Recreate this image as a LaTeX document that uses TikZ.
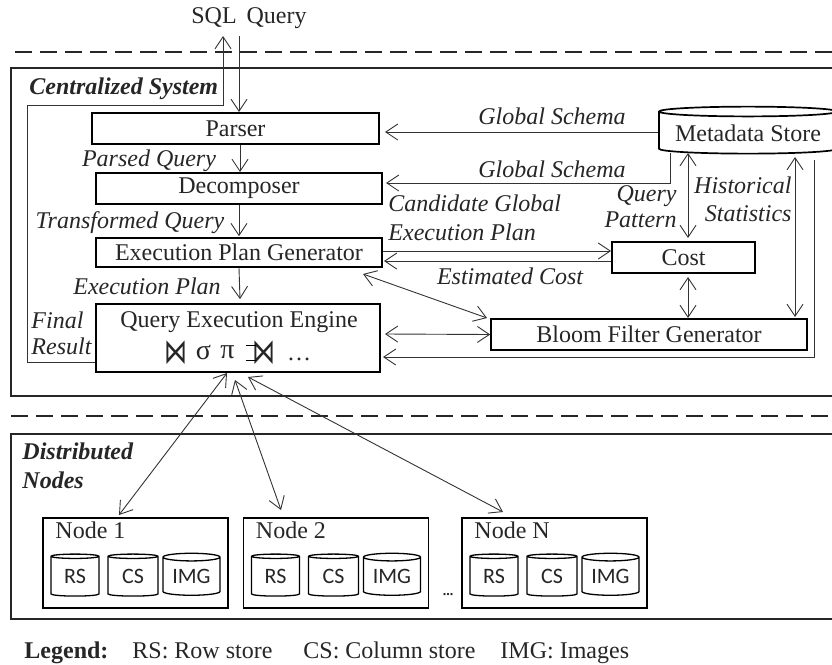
\documentclass[tikz,border=0pt]{standalone}
\usepackage{fontspec}
\setmainfont{Liberation Serif}
\newfontfamily\storefont{Carlito}
\newfontfamily\opfont{DejaVu Sans}
\usetikzlibrary{shapes.geometric,arrows.meta}

\begin{document}
\begin{tikzpicture}[x=1pt,y=-1pt,>={Straight Barb[length=12pt,width=16pt]},
  line width=0.9pt,color=black!80,
  every node/.style={font=\fontsize{24}{28}\selectfont,text=black!85},
  main node/.style={draw=black,line width=1.7pt,inner sep=0pt},
  frame node/.style={draw=black!85,line width=1.5pt,inner sep=0pt,minimum width=823pt},
  flow label/.style={font=\fontsize{24}{28}\selectfont\itshape,inner sep=0pt},
  part label/.style={font=\fontsize{24}{28}\selectfont\bfseries\itshape,inner sep=0pt,anchor=west},
  store node/.style={draw=black,line width=1.3pt,cylinder,shape border rotate=90,inner sep=0pt,
    aspect=0.2,minimum height=42pt,font=\fontsize{22}{26}\selectfont\storefont},
  op node/.style={inner sep=0pt,font=\fontsize{28}{32}\selectfont},
  join node/.style={inner sep=0pt,font=\fontsize{23}{26}\selectfont\opfont},
  split line/.style={draw=black!85,line width=2pt,dash pattern=on 17pt off 8pt}]

  \clip (0,0) rectangle (832,664);

  % outer frames
  \node[frame node,minimum height=328pt] (central) at (422.5,232) {};
  \node[frame node,minimum height=185pt] (distributed) at (422.5,526.5) {};
  \coordinate (split1a) at (15,52);
  \coordinate (split1b) at (832,52);
  \coordinate (split2a) at (11,416);
  \coordinate (split2b) at (832,416);
  \draw[split line] (split1a) -- (split1b);
  \draw[split line] (split2a) -- (split2b);

  \node[inner sep=0pt] (sql) at (249,18.5) {SQL\, Query};
  \node[part label] (centrallabel) at (29,88.5) {Centralized System};
  \node[part label] (distlabel1) at (22,451) {Distributed};
  \node[part label] (distlabel2) at (22,480) {Nodes};

  % centralized part
  \node[main node,minimum width=287pt,minimum height=31pt] (parser) at (235.5,128.5) {Parser};
  \node[main node,minimum width=286pt,minimum height=31pt] (decomposer) at (239,188.5) {\raisebox{-2pt}{Decomposer}};
  \node[main node,minimum width=286pt,minimum height=29pt] (plangen) at (239,252.5) {Execution Plan Generator};
  \node[main node,minimum width=284pt,minimum height=68pt] (engine) at (238,338) {};
  \node[inner sep=0pt] (enginetitle) at (239,322.5) {Query Execution Engine};
  \node[join node] (join1) at (175.5,353) {\scalebox{1}[1.5]{⋈}};
  \node[op node] (select) at (203.5,352) {σ};
  \node[op node] (project) at (227.5,352) {π};
  \node[join node] (join2) at (264,353) {\scalebox{1}[1.5]{⋈}};
  \node[inner sep=0pt] (more) at (299,359) {…};
  \draw[line width=1.2pt,color=black] (246,345.5) -- (256,345.5) (246,360.5) -- (256,360.5);
  \node[main node,minimum width=143pt,minimum height=31pt] (cost) at (683.5,257.5) {Cost};
  \node[main node,minimum width=316pt,minimum height=31pt] (bloom) at (649,334.5) {Bloom Filter Generator};
  \node[draw=black,line width=1.7pt,cylinder,shape border rotate=90,inner sep=0pt,aspect=0.067,
    minimum width=178pt,minimum height=47pt] (metadata) at (748,133) {Metadata Store};

  % labels of the flows
  \node[flow label] (parsedq) at (149,160.5) {Parsed Query};
  \node[flow label] (transq) at (130,222.5) {Transformed Query};
  \node[flow label] (execplan) at (147,286) {Execution Plan};
  \node[flow label,anchor=west] (final) at (31,320) {Final};
  \node[flow label,anchor=west] (result) at (31,346) {Result};
  \node[flow label] (schema1) at (552,116) {Global Schema};
  \node[flow label] (schema2) at (552,169) {Global Schema};
  \node[flow label,anchor=west] (cand1) at (388,203) {Candidate Global};
  \node[flow label,anchor=west] (cand2) at (388,232) {Execution Plan};
  \node[flow label] (estcost) at (510,276) {Estimated Cost};
  \node[flow label,anchor=east] (pattern1) at (677,196) {Query};
  \node[flow label,anchor=east] (pattern2) at (677,220) {Pattern};
  \node[flow label,anchor=east] (hist1) at (792,185) {Historical};
  \node[flow label,anchor=east] (hist2) at (792,214) {Statistics};

  % distributed part
  \foreach \id/\off in {1/0,2/200.5,N/419}{
    \node[main node,minimum width=185pt,minimum height=90pt] (node\id) at (135.5+\off,563) {};
    \node[inner sep=0pt,anchor=west] (name\id) at (55+\off,530) {Node \id};
    \node[store node,minimum width=48pt] (rs\id) at (75+\off,576.5) {\raisebox{-4pt}{RS}};
    \node[store node,minimum width=50pt] (cs\id) at (133+\off,576.5) {\raisebox{-4pt}{CS}};
    \node[store node,minimum width=57pt] (img\id) at (191.5+\off,576.5) {\raisebox{-4pt}{IMG}};
  }
  \node[inner sep=0pt] (dots) at (448,595) {\fontsize{14}{16}\selectfont\bfseries ...};

  \node[inner sep=0pt,anchor=base west] (legend) at (24,658) {\textbf{Legend:}};
  \node[inner sep=0pt,anchor=base west] (legrs) at (132,658) {RS: Row store};
  \node[inner sep=0pt,anchor=base west] (legcs) at (303,658) {CS: Column store};
  \node[inner sep=0pt,anchor=base west] (legimg) at (500,658) {IMG: Images};

  % connectors
  \draw[->] (engine.west |- 0,362) -- (27,362) -- (27,105) -- (223,105) -- (223,36);
  \draw[->] (239,36) -- (239,112);
  \path[->]
    (parser.south -| 240,0) edge (240,172)
    (decomposer.south) edge ([yshift=1pt]plangen.north)
    (plangen.south) edge ([yshift=4pt]engine.north -| 240,0)
    (metadata.west |- 0,132) edge (385,132)
    (plangen.east |- 0,251) edge (611,251)
    (cost.west |- 0,261) edge (384,261);
  \draw[->] (670,153) -- (670,183) -- (386,183);
  \draw[<->] (688,153) -- (688,238);
  \draw[<->] (795,157) -- (795,317);
  \draw[<->] (688,277) -- (688,318);
  \draw[<->] (363,274) -- (487,318);
  \draw[<->] (385,334) -- (bloom.west);
  \draw[->] (814,160) -- (814,357) -- (383,357);
  \draw[<->] (227,373) -- (119,515);
  \draw[<->] (235,380) -- (281,510);
  \draw[<->] (248,377) -- (503,512);
\end{tikzpicture}
\end{document}
